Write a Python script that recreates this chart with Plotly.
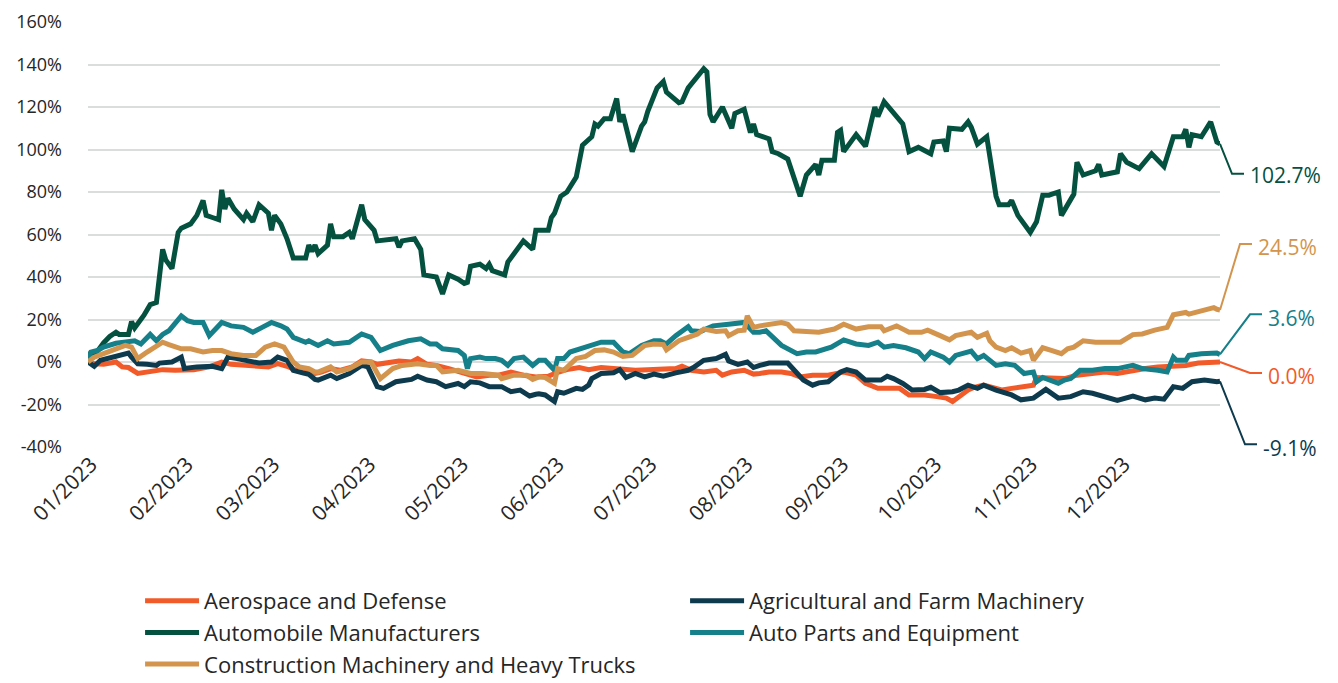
import numpy as np
import pandas as pd
import plotly.graph_objects as go

# x calibration: positions were read as day offsets; axis spans Dec 31 2022 .. Dec 31 2023
START = pd.Timestamp("2022-12-31")
SPAN_DAYS = 366
READ_SPAN = 364

# ---- Data (cumulative return, %) : read day offsets and values ----
auto_days = [0,1,2,5,7,9,10,13,14,15,18,20,22,23,24,25,27,29,30,33,35,37,38,40,42,43,44,45,47,50,51,53,55,58,59,60,62,64,66,70,71,72,73,74,77,78,79,82,84,85,88,89,91,92,93,99,100,101,105,107,108,112,114,116,119,121,122,123,126,128,129,130,134,135,140,143,144,148,149,150,152,154,157,159,162,163,164,166,168,170,171,172,175,178,179,180,183,185,186,190,191,193,198,199,200,201,204,205,207,208,211,213,214,215,219,220,222,225,229,231,234,235,236,240,241,242,243,247,250,253,254,256,260,262,264,267,271,272,275,276,277,281,283,284,286,289,292,293,296,297,299,303,305,307,309,312,313,317,318,320,324,325,326,331,332,334,338,342,346,349,352,353,354,355,358,361,363,364]
auto_vals = [0,5,3,9,12,14,13,13,19,16,22,27,28,39,53,48,44,61,63,65,69,76,69,68,67,81,72,77,72,67,70,66,74,70,62,69,65,58,49,49,55,52,55,51,55,65,59,59,61,58,74,67,64,62,57,58,54,57,58,53,41,40,32,41,39,37,37.5,45,46,44,46,43,41,47,57,53,62,62,68,70,78,80,87,102,106,112,111,114.5,114.5,124,113,116.5,99,111,113,118,129,132,127,122,122.5,129,138,136.5,116.5,113,120,116.5,110,117,119,108,112,107,105,99,98,95.5,78,88,93,88,95,95,108,109,99,107,101.5,120,115.5,122.5,115,112,99,101,98,103.5,104,99,110,109.5,113,110.5,102.5,106,78,74,74,76,69,61,66,78.5,78.5,80,69,79,94,88,90,93,88,89.5,98,94,91,98,92,106,106,109.5,101,107,106,113,103.5,102.7]

parts_days = [0,1,3,5,9,12,15,17,20,22,24,26,28,30,32,34,37,39,43,46,50,53,56,59,62,64,66,70,71,74,77,79,84,88,91,94,98,103,107,110,112,114,119,121,122,123,126,128,131,133,135,137,140,143,145,147,150,151,153,155,160,163,165,169,172,174,178,182,184,186,189,193,194,197,201,206,211,214,216,218,222,223,228,231,234,239,243,247,251,254,256,259,263,267,269,271,275,277,279,284,286,288,292,295,298,301,304,305,307,312,314,316,319,323,327,331,336,339,344,347,349,350,353,354,358,363,364]
parts_vals = [0,4.7,5.4,7,8.8,9.3,10,8.5,13,10,13,14.7,17.8,21.7,19.4,18.6,18.6,12.4,18.6,17,16.3,14,16.3,18.6,17,15.5,11.6,9.3,10,7.8,10,8.5,9.3,13.2,11.6,5.4,7.8,10,10.9,8.5,8.5,6.2,5.4,3.1,-3.1,1.6,2.3,1.6,1.6,0.8,-1.6,1.6,2.3,-1.6,0.8,0.8,-3.9,1.6,1.6,4.7,7,8.5,9.3,9.3,4.7,3.9,7.8,10,10,8.5,12.4,16.6,14.7,14.4,17,17.8,18.6,14,14,14.7,8.5,7.8,3.9,4.7,4.7,7,10.4,8.5,7.8,9.3,7,7.8,6.7,4.7,1.6,4.7,2.3,0,3.1,5.1,1.6,3.1,-1.6,-0.8,-1.6,-5.4,-4.7,-9.3,-7.3,-10,-8.5,-7.8,-3.9,-3.9,-3.1,-3.1,-1.6,-3.1,-3.9,-4.7,2.3,0.8,0.8,3.1,3.9,4.2,3.6]

constr_days = [0,2,5,9,12,14,16,19,22,24,26,30,33,37,40,43,46,50,54,57,60,63,66,68,71,73,74,78,80,84,88,91,94,98,101,106,110,112,114,119,123,127,132,133,137,141,143,145,147,150,151,153,157,160,163,166,169,172,175,179,182,185,186,190,193,196,198,202,205,206,209,211,212,213,214,216,218,219,223,225,227,231,235,240,243,247,251,255,256,260,264,268,270,274,277,279,284,286,289,290,292,295,297,300,303,304,307,310,313,315,317,320,324,328,332,336,339,343,347,349,353,354,358,362,363,364]
constr_vals = [0,2.3,3.9,6.2,7.8,7,1.6,4.7,7.8,9.3,8.2,6.2,6.2,4.7,5.4,5.4,3.9,3.1,3.1,7,8.5,7,0,-2.3,-3.1,-4.7,-4.7,-2.3,-4.7,-3.1,0,0,-7.8,-3.1,-1.6,-0.8,-1.6,-1.6,-4.7,-3.9,-5.4,-5.4,-6.2,-7.8,-6.2,-6.2,-8.2,-7,-7.3,-10,-3.1,-3.9,1.6,2.6,5.4,5.7,4.7,2.6,3.1,7.8,8.5,8.2,5.7,10,11.6,13.2,15.5,14.4,14.7,12.4,14.7,15,21.7,18.6,16.3,17,17.5,17.8,18.6,17.8,14.7,14.4,14,15.5,17.8,15.5,16.6,16.6,14.7,17,14,14,15,12.4,10.4,12.4,14,11.6,13.5,10,7,5.4,6.7,4.2,5.4,0.8,6.7,5.4,3.9,6.2,7,10,9.3,9.3,9.3,12.9,13.2,15,16.3,22.2,23.3,22.5,24,25.6,24.8,24.5]

aero_days = [0,2,5,9,11,13,16,21,24,28,31,34,39,43,46,50,54,58,61,64,67,70,71,73,75,78,81,85,88,91,93,97,100,104,106,109,112,116,121,125,129,132,136,140,144,148,150,154,158,161,165,169,173,176,180,185,189,191,194,198,202,204,207,211,214,216,219,223,226,229,233,238,243,247,250,254,257,261,264,269,273,276,278,280,283,285,287,288,292,294,297,300,304,305,310,314,318,323,327,331,336,340,344,349,353,357,363,364]
aero_vals = [0,-0.8,-1.1,0,-2.3,-2.6,-5.4,-4.2,-3.6,-3.9,-3.9,-3.6,-2.3,0,-1.1,-1.6,-1.6,-2.3,-0.8,-2,-3.9,-4.7,-4.5,-5.4,-4.7,-3.1,-3.9,-2.3,0.5,0,-1.1,-0.5,0.5,0,1.6,-1.1,-1.6,-3.1,-5.1,-7,-6.2,-6.2,-4.7,-6.2,-7,-6.7,-5.4,-3.6,-2.6,-3.6,-2.6,-3.1,-3.6,-3.9,-3.6,-3.1,-3.1,-2,-3.9,-4.7,-3.9,-6.2,-4.7,-3.9,-5.7,-5.4,-4.7,-4.7,-5.4,-7,-6.2,-6.2,-4.7,-6.2,-10,-12.4,-12.4,-12.4,-15.5,-15.5,-16.3,-17,-18.6,-16.3,-13.2,-11.9,-11.6,-10.9,-12.4,-13.2,-12.4,-11.6,-10.9,-7.3,-7.8,-7.8,-6.2,-5.1,-4.7,-5.4,-3.9,-3.1,-2.3,-2,-1.6,-0.5,0,0.0]

agri_days = [0,2,4,6,10,13,14,16,19,22,23,27,30,31,35,40,43,45,48,51,55,59,61,64,66,69,71,73,74,78,80,84,88,90,93,95,99,104,106,109,112,115,119,121,123,126,129,133,136,139,142,144,145,147,150,151,153,157,159,161,162,165,169,171,173,176,179,182,185,189,193,195,198,202,205,206,209,212,214,216,218,219,225,227,230,233,235,238,242,244,247,250,255,257,259,262,265,269,271,274,278,280,283,286,288,292,295,297,300,304,308,310,312,316,320,323,327,331,336,340,343,346,349,352,355,359,363,364]
agri_vals = [0,-2,0.8,1.6,3.1,4.2,2.3,-0.8,-1.1,-1.6,-0.5,0,2.3,-3.1,-2.3,-2,-3.1,2.3,1.6,0.5,-0.5,0,2.3,0.8,-3.9,-5.1,-5.8,-8.2,-8.5,-6.2,-7.8,-5.4,-1.6,-2.3,-11.6,-12.4,-9.3,-8.2,-6.7,-8.5,-9.3,-11.6,-10.1,-11.6,-9.3,-9.8,-11.6,-11.6,-14,-13.2,-16,-15.2,-15,-15.5,-18.6,-14,-14.7,-12.4,-12.9,-10.9,-7.8,-5.4,-5.1,-3.6,-7.3,-5.4,-7,-5.7,-6.7,-5.1,-3.9,-2.3,0.8,1.6,3.6,0.5,-1.1,0,-2.6,-1.6,-1.1,-0.5,-0.5,-3.9,-8.5,-10.9,-9.8,-9.3,-4.7,-3.6,-4.7,-8.5,-8.5,-6.7,-7.8,-10.1,-13.2,-12.9,-11.9,-14.4,-14,-13.2,-10.9,-12.4,-10.9,-13.2,-14.4,-15.5,-17.8,-17,-12.9,-14.7,-17,-16.3,-14,-14.7,-16.3,-18.1,-16,-17.8,-17,-17.5,-11.6,-12.4,-9.3,-8.5,-9.3,-9.1]

series = [
    ("Aerospace and Defense", aero_days, aero_vals, "#F15A29"),
    ("Agricultural and Farm Machinery", agri_days, agri_vals, "#0E3A4E"),
    ("Automobile Manufacturers", auto_days, auto_vals, "#04513F"),
    ("Auto Parts and Equipment", parts_days, parts_vals, "#15808A"),
    ("Construction Machinery and Heavy Trucks", constr_days, constr_vals, "#D3954E"),
]

y_ticks = [-40, -20, 0, 20, 40, 60, 80, 100, 120, 140, 160]
x_ticks = ["2023-01-01", "2023-02-01", "2023-03-01", "2023-04-01", "2023-05-01", "2023-06-01",
           "2023-07-01", "2023-08-01", "2023-09-01", "2023-10-01", "2023-11-01", "2023-12-01"]

FONT = "Segoe UI, Open Sans, sans-serif"


def to_dates(days):
    d = np.asarray(days, dtype=float) * SPAN_DAYS / READ_SPAN
    return START + pd.to_timedelta(d, unit="D")


fig = go.Figure()
for name, days, vals, color in series:
    fig.add_trace(go.Scatter(
        x=to_dates(days), y=vals, mode="lines", name=name,
        line=dict(color=color, width=5, shape="linear"),
        hoverinfo="skip",
    ))

# end-of-line leader lines and labels: (dx_corner, dy_corner, xshift, yshift) in pixels
leaders = {
    "Automobile Manufacturers": (12, -30, 30, -31),
    "Construction Machinery and Heavy Trucks": (20, 66, 38, 63),
    "Auto Parts and Equipment": (30, 40, 48, 36),
    "Aerospace and Defense": (30, -11, 48, -14),
    "Agricultural and Farm Machinery": (25, -63, 43, -67),
}
for name, days, vals, color in series:
    cx, cy, xs, ys = leaders[name]
    end = vals[-1]
    fig.add_shape(
        type="path", xref="paper", yref="y",
        xsizemode="pixel", ysizemode="pixel", xanchor=1, yanchor=end,
        path=f"M0,0 L{cx},{cy} L{cx+12},{cy}",
        line=dict(color=color, width=2),
    )
    fig.add_annotation(
        xref="paper", yref="y", x=1, y=end, text=f"{end:.1f}%",
        showarrow=False, xanchor="left", yanchor="middle",
        xshift=xs - 2, yshift=ys,
        font=dict(family=FONT, size=21, color=color),
    )

fig.update_layout(
    width=1330, height=675,
    margin=dict(l=80, r=118, t=14, b=236, autoexpand=False),
    paper_bgcolor="white", plot_bgcolor="white",
    font=dict(family=FONT, size=18, color="#404040"),
    showlegend=True,
    legend=dict(
        orientation="h", xref="paper", x=0.046,
        yref="container", y=1 - 572 / 675, xanchor="left", yanchor="top",
        entrywidth=476, entrywidthmode="pixels",
        itemwidth=54, font=dict(family=FONT, size=22, color="#262626"),
        tracegroupgap=0, bgcolor="rgba(0,0,0,0)",
    ),
    xaxis=dict(
        range=[START, START + pd.Timedelta(days=SPAN_DAYS)],
        tickvals=x_ticks, tickformat="%m/%Y",
        tickangle=-45, showgrid=False, zeroline=False, showline=False,
        ticks="", tickfont=dict(family=FONT, size=21, color="#262626"),
        automargin=False, ticklabeloverflow="allow",
    ),
    yaxis=dict(
        range=[-40, 160], tickvals=y_ticks,
        ticktext=[f"{v}%" for v in y_ticks],
        showgrid=True, gridcolor="#D9DEDC", gridwidth=2,
        zeroline=False, showline=False, ticks="",
        ticklabelstandoff=25, automargin=False, ticklabeloverflow="allow",
        tickfont=dict(family=FONT, size=18, color="#262626"),
    ),
)

fig.write_html("out.html")
